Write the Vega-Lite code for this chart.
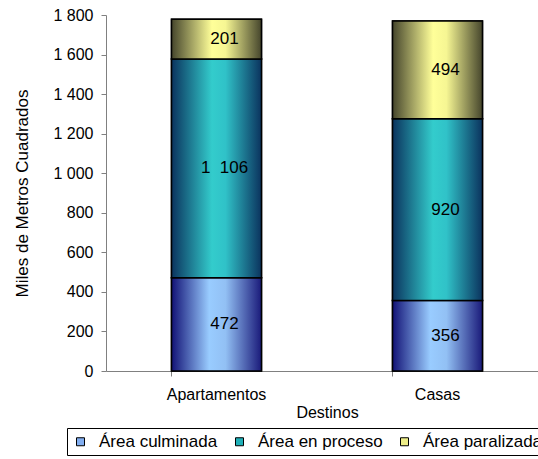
{
  "$schema": "https://vega.github.io/schema/vega-lite/v6.json",
  "autosize": "none",
  "width": 442,
  "height": 356,
  "padding": {"left": 106, "top": 15, "right": 0, "bottom": 88},
  "background": "white",
  "config": {
    "view": {"stroke": null},
    "font": "Liberation Sans",
    "axis": {"labelFont": "Liberation Sans", "titleFont": "Liberation Sans", "labelColor": "black", "titleColor": "black", "labelFontSize": 16, "titleFontSize": 16, "titleFontWeight": "normal", "domainColor": "#808080", "tickColor": "#808080", "tickSize": 5, "grid": false}
  },
  "data": {
    "values": [
      {"destino": "Apartamentos", "serie": "Área culminada", "orden": 1, "valor": 472, "txt": "472"},
      {"destino": "Apartamentos", "serie": "Área en proceso", "orden": 2, "valor": 1106, "txt": "1 \u00a0106"},
      {"destino": "Apartamentos", "serie": "Área paralizada", "orden": 3, "valor": 201, "txt": "201"},
      {"destino": "Casas", "serie": "Área culminada", "orden": 1, "valor": 356, "txt": "356"},
      {"destino": "Casas", "serie": "Área en proceso", "orden": 2, "valor": 920, "txt": "920"},
      {"destino": "Casas", "serie": "Área paralizada", "orden": 3, "valor": 494, "txt": "494"}
    ]
  },
  "transform": [
    {"stack": "valor", "groupby": ["destino"], "sort": [{"field": "orden", "order": "ascending"}], "as": ["y0", "y1"]},
    {"calculate": "(datum.y0 + datum.y1) / 2", "as": "ymid"}
  ],
  "encoding": {
    "x": {"field": "destino", "type": "nominal", "title": "Destinos",
      "scale": {"paddingInner": 0.593, "paddingOuter": 0.2965},
      "axis": {"labelAngle": 0, "bandPosition": 0, "labelPadding": 10, "titlePadding": 2}},
    "y": {"field": "y1", "type": "quantitative", "title": "Miles de Metros Cuadrados",
      "scale": {"domain": [0, 1800], "nice": false},
      "axis": {"values": [0, 200, 400, 600, 800, 1000, 1200, 1400, 1600, 1800], "labelExpr": "replace(format(datum.value, ','), ',', ' ')", "labelPadding": 8, "titlePadding": 21, "titleFontSize": 17}},
    "y2": {"field": "y0"}
  },
  "layer": [
    {
      "mark": {"type": "bar", "stroke": "black", "strokeWidth": 1.5},
      "encoding": {
        "fill": {"field": "serie", "type": "nominal",
          "scale": {"domain": ["Área culminada", "Área en proceso", "Área paralizada"], "range": ["#82aef0", "#1fb0b8", "#eeee88"]},
          "legend": {"orient": "none", "legendX": -39, "legendY": 413, "direction": "horizontal", "title": null,
            "strokeColor": "black", "padding": 5, "labelFontSize": 17, "labelFont": "Liberation Sans", "labelColor": "black",
            "symbolType": "square", "symbolSize": 64, "symbolStrokeColor": "black", "symbolStrokeWidth": 1,
            "labelOffset": 10, "columnPadding": 13, "fillColor": "white", "labelLimit": 300}}
      }
    },
    {
      "transform": [{"filter": "datum.serie == 'Área culminada'"}],
      "mark": {"type": "bar", "stroke": "black", "strokeWidth": 1.5,
        "fill": {"gradient": "linear", "x1": 0, "y1": 0, "x2": 1, "y2": 0,
          "stops": [{"offset": 0, "color": "#121276"}, {"offset": 0.42, "color": "#99ccff"}, {"offset": 0.6, "color": "#92c0f4"}, {"offset": 1, "color": "#1a1a7a"}]}}
    },
    {
      "transform": [{"filter": "datum.serie == 'Área en proceso'"}],
      "mark": {"type": "bar", "stroke": "black", "strokeWidth": 1.5,
        "fill": {"gradient": "linear", "x1": 0, "y1": 0, "x2": 1, "y2": 0,
          "stops": [{"offset": 0, "color": "#0b335e"}, {"offset": 0.45, "color": "#33cccc"}, {"offset": 0.6, "color": "#30c2c8"}, {"offset": 1, "color": "#0b335e"}]}}
    },
    {
      "transform": [{"filter": "datum.serie == 'Área paralizada'"}],
      "mark": {"type": "bar", "stroke": "black", "strokeWidth": 1.5,
        "fill": {"gradient": "linear", "x1": 0, "y1": 0, "x2": 1, "y2": 0,
          "stops": [{"offset": 0, "color": "#45452c"}, {"offset": 0.45, "color": "#ffff99"}, {"offset": 0.6, "color": "#f6f693"}, {"offset": 1, "color": "#45452c"}]}}
    },
    {
      "mark": {"type": "text", "font": "Liberation Sans", "fontSize": 17, "color": "black", "dx": 8, "baseline": "middle"},
      "encoding": {
        "y": {"field": "ymid", "type": "quantitative"},
        "y2": null,
        "text": {"field": "txt", "type": "nominal"}
      }
    }
  ]
}
